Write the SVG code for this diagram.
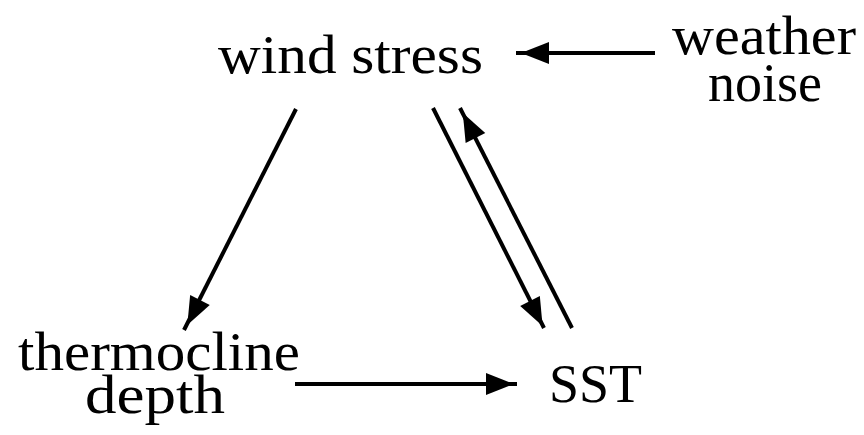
<svg xmlns="http://www.w3.org/2000/svg" xmlns:xlink="http://www.w3.org/1999/xlink" width="864" height="435" viewBox="0 0 864 435">
<style>
text{font-family:"Liberation Serif","DejaVu Serif",serif;font-size:55px;fill:#000}
.ln{stroke:#000;stroke-width:4;fill:none}
.hd{fill:#000}
</style>
<defs>
<path id="ah" d="M0,0 L-28,-11 L-28,11 Z"/>
</defs>
<rect width="864" height="435" fill="#fff"/>
<g id="wind"><text x="218" y="73" textLength="265" lengthAdjust="spacingAndGlyphs">wind stress</text></g>
<g id="weather"><text x="672" y="54" textLength="184" lengthAdjust="spacingAndGlyphs">weather</text><text x="708" y="101" textLength="114" lengthAdjust="spacingAndGlyphs">noise</text></g>
<g id="thermo"><text x="18" y="370" textLength="282" lengthAdjust="spacingAndGlyphs">thermocline</text><text x="85" y="413" textLength="140" lengthAdjust="spacingAndGlyphs">depth</text></g>
<g id="sst"><text x="549" y="402" textLength="93" lengthAdjust="spacingAndGlyphs">SST</text></g>
<g id="connectors">
<line class="ln" x1="655" y1="53" x2="516" y2="53"/>
<use xlink:href="#ah" class="hd" transform="translate(521,53) rotate(180)"/>
<line class="ln" x1="296" y1="109" x2="184" y2="330"/>
<use xlink:href="#ah" class="hd" transform="translate(187.3,325) rotate(116.9)"/>
<line class="ln" x1="433" y1="108" x2="544" y2="328"/>
<use xlink:href="#ah" class="hd" transform="translate(542.6,326) rotate(63.3)"/>
<line class="ln" x1="572" y1="328" x2="460" y2="108"/>
<use xlink:href="#ah" class="hd" transform="translate(462.8,113) rotate(243.1)"/>
<line class="ln" x1="295" y1="384" x2="517" y2="384"/>
<use xlink:href="#ah" class="hd" transform="translate(514,384)"/>
</g>
</svg>
